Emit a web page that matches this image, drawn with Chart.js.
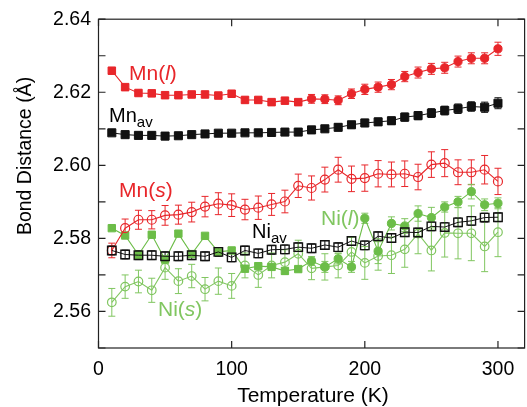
<!DOCTYPE html>
<html lang="en">
<head>
<meta charset="utf-8" />
<title>Bond Distance vs Temperature</title>
<script src="https://cdn.jsdelivr.net/npm/chart.js"></script>
<style>
    html, body { margin: 0; padding: 0; background: #fff; overflow: hidden; }
    #wrap { width: 532px; height: 407px; }
</style>
</head>
<body>
<div id="wrap"><canvas id="bondChart" width="532" height="407"></canvas></div>

<script>
    // Temperatures (K) and tick labels
    var temps = [10, 20, 30, 40, 50, 60, 70, 80, 90, 100, 110, 120, 130, 140, 150,
                 160, 170, 180, 190, 200, 210, 220, 230, 240, 250, 260, 270, 280, 290, 300];
    var xTicks = [0, 100, 200, 300];
    var yTickLabels = ['2.56', '2.58', '2.60', '2.62', '2.64'];

    // Bond distances (Angstrom)
    var mnL = [2.6259, 2.6214, 2.6198, 2.6197, 2.6192, 2.6192, 2.6194, 2.6194, 2.6191, 2.6196, 2.6179, 2.6179, 2.6173, 2.6177, 2.6173,
               2.6182, 2.6181, 2.6178, 2.6196, 2.6208, 2.6214, 2.6221, 2.6243, 2.6254, 2.6264, 2.6267, 2.6284, 2.6293, 2.6293, 2.6319];
    var mnAv = [2.6089, 2.6084, 2.6082, 2.6082, 2.6080, 2.6081, 2.6084, 2.6086, 2.6088, 2.6088, 2.6089, 2.6089, 2.6090, 2.6091, 2.6091,
                2.6097, 2.6100, 2.6104, 2.6111, 2.6116, 2.6119, 2.6122, 2.6132, 2.6136, 2.6143, 2.6150, 2.6155, 2.6161, 2.6159, 2.6170];
    var mnS = [2.5767, 2.5828, 2.5851, 2.5851, 2.5863, 2.5865, 2.5872, 2.5887, 2.5895, 2.5891, 2.5879, 2.5884, 2.5893, 2.5901, 2.5944,
               2.5938, 2.5961, 2.5988, 2.5963, 2.5965, 2.5977, 2.5975, 2.5977, 2.5968, 2.6002, 2.6006, 2.5981, 2.5981, 2.5988, 2.5956];
    var niAv = [2.5767, 2.5756, 2.5754, 2.5754, 2.5751, 2.5751, 2.5754, 2.5751, 2.5763, 2.5748, 2.5767, 2.5759, 2.5769, 2.5770, 2.5776,
                2.5773, 2.5782, 2.5776, 2.5793, 2.5781, 2.5806, 2.5801, 2.5817, 2.5816, 2.5833, 2.5831, 2.5844, 2.5848, 2.5857, 2.5858];
    var niL = [2.5828, 2.5808, 2.5755, 2.5810, 2.5742, 2.5813, 2.5757, 2.5807, 2.5763, 2.5767, 2.5717, 2.5724, 2.5722, 2.5711, 2.5716,
               2.5738, 2.5722, 2.5744, 2.5722, 2.5855, 2.5765, 2.5841, 2.5834, 2.5868, 2.5857, 2.5886, 2.5900, 2.5928, 2.5892, 2.5896];
    var niS = [2.5625, 2.5668, 2.5682, 2.5658, 2.5720, 2.5683, 2.5697, 2.5661, 2.5683, 2.5670, 2.5726, 2.5700, 2.5726, 2.5735, 2.5758,
               2.5718, 2.5722, 2.5726, 2.5763, 2.5733, 2.5752, 2.5754, 2.5770, 2.5813, 2.5767, 2.5815, 2.5814, 2.5814, 2.5778, 2.5817];

    // Error bars (+/- Angstrom)
    var mnLErr = [0.0008, 0.0008, 0.0008, 0.0008, 0.0008, 0.0008, 0.0008, 0.0008, 0.0008, 0.0008, 0.0008, 0.0008, 0.0008, 0.0008, 0.0008,
                  0.0012, 0.0012, 0.0012, 0.0013, 0.0014, 0.0014, 0.0014, 0.0014, 0.0015, 0.0015, 0.0015, 0.0015, 0.0015, 0.0015, 0.0018];
    var mnAvErr = [0.0005, 0.0005, 0.0005, 0.0005, 0.0005, 0.0005, 0.0005, 0.0005, 0.0005, 0.0005, 0.0005, 0.0005, 0.0005, 0.0005, 0.0005,
                   0.0008, 0.0008, 0.0009, 0.0009, 0.0010, 0.0010, 0.0010, 0.0011, 0.0011, 0.0012, 0.0012, 0.0013, 0.0013, 0.0014, 0.0015];
    var mnSErr = [0.0020, 0.0025, 0.0026, 0.0025, 0.0027, 0.0026, 0.0027, 0.0028, 0.0030, 0.0031, 0.0028, 0.0032, 0.0030, 0.0031, 0.0032,
                  0.0033, 0.0034, 0.0034, 0.0035, 0.0036, 0.0036, 0.0034, 0.0035, 0.0035, 0.0035, 0.0037, 0.0034, 0.0034, 0.0039, 0.0036];
    var niAvErr = [0.0012, 0.0012, 0.0012, 0.0012, 0.0012, 0.0012, 0.0012, 0.0012, 0.0012, 0.0012, 0.0012, 0.0012, 0.0012, 0.0012, 0.0012,
                   0.0012, 0.0012, 0.0012, 0.0012, 0.0012, 0.0012, 0.0012, 0.0012, 0.0012, 0.0012, 0.0012, 0.0012, 0.0012, 0.0012, 0.0012];
    var niLErr = [0.0006, 0.0006, 0.0006, 0.0006, 0.0006, 0.0006, 0.0006, 0.0006, 0.0006, 0.0006, 0.0008, 0.0008, 0.0008, 0.0008, 0.0008,
                  0.0012, 0.0015, 0.0014, 0.0015, 0.0014, 0.0034, 0.0018, 0.0020, 0.0021, 0.0028, 0.0014, 0.0015, 0.0020, 0.0016, 0.0015];
    var niSErr = [0.0038, 0.0032, 0.0031, 0.0033, 0.0032, 0.0034, 0.0032, 0.0032, 0.0036, 0.0034, 0.0034, 0.0034, 0.0034, 0.0034, 0.0037,
                  0.0031, 0.0036, 0.0034, 0.0040, 0.0045, 0.0039, 0.0050, 0.0049, 0.0055, 0.0056, 0.0066, 0.0070, 0.0075, 0.0069, 0.0067];

    var FONT = "'Liberation Sans', Arial, Helvetica, sans-serif";
    var RED = '#e8262a';
    var GREEN = '#6cbd48';
    var GREEN_LT = '#80c660';
    var BLACK = '#111111';

    Chart.defaults.font.family = FONT;
    Chart.defaults.color = '#000';

    function pts(vals) {
        return temps.map(function (t, i) { return { x: t, y: vals[i] }; });
    }
    // low temperature runs are plotted with squares, high temperature ones with circles
    function lowT(c) { return temps[c.dataIndex] <= 150; }

    // draws the vertical error bars through the library's scales
    var errorBars = {
        id: 'errorBars',
        beforeDatasetsDraw: function (chart) {
            var ctx = chart.ctx, xs = chart.scales.x, ys = chart.scales.y;
            ctx.save();
            chart.data.datasets.forEach(function (ds) {
                if (!ds.errors) return;
                ctx.strokeStyle = ds.errorColor;
                ctx.lineWidth = 1;
                ds.data.forEach(function (p, i) {
                    var x = xs.getPixelForValue(p.x);
                    var y1 = ys.getPixelForValue(p.y + ds.errors[i]);
                    var y2 = ys.getPixelForValue(p.y - ds.errors[i]);
                    ctx.beginPath();
                    ctx.moveTo(x, y1); ctx.lineTo(x, y2);
                    ctx.moveTo(x - 3.5, y1); ctx.lineTo(x + 3.5, y1);
                    ctx.moveTo(x - 3.5, y2); ctx.lineTo(x + 3.5, y2);
                    ctx.stroke();
                });
            });
            ctx.restore();
        }
    };

    function drawParts(ctx, x, y, parts, color) {
        ctx.fillStyle = color;
        ctx.textAlign = 'left';
        ctx.textBaseline = 'alphabetic';
        parts.forEach(function (p) {
            ctx.font = (p.italic ? 'italic ' : '') + p.size + 'px ' + FONT;
            ctx.fillText(p.text, x, y + (p.dy || 0));
            x += ctx.measureText(p.text).width;
        });
    }

    // box, inward ticks, axis titles and series labels
    var frame = {
        id: 'frame',
        afterDraw: function (chart) {
            var ctx = chart.ctx, a = chart.chartArea, xs = chart.scales.x, ys = chart.scales.y;
            ctx.save();
            ctx.strokeStyle = '#222';
            ctx.lineWidth = 1.2;
            ctx.strokeRect(a.left, a.top, a.right - a.left, a.bottom - a.top);
            ctx.beginPath();
            xTicks.forEach(function (t) {
                var x = xs.getPixelForValue(t);
                ctx.moveTo(x, a.bottom); ctx.lineTo(x, a.bottom - 7);
                ctx.moveTo(x, a.top); ctx.lineTo(x, a.top + 7);
            });
            ys.ticks.forEach(function (t) {
                var y = ys.getPixelForValue(t.value);
                ctx.moveTo(a.left, y); ctx.lineTo(a.left + 7, y);
                ctx.moveTo(a.right, y); ctx.lineTo(a.right - 7, y);
            });
            ctx.stroke();

            // axis titles
            ctx.fillStyle = '#000';
            ctx.font = '21px ' + FONT;
            ctx.textAlign = 'center';
            ctx.textBaseline = 'alphabetic';
            ctx.fillText('Temperature (K)', 313, 402);
            ctx.save();
            ctx.translate(31, 156);
            ctx.rotate(-Math.PI / 2);
            ctx.font = '19.5px ' + FONT;
            ctx.fillText('Bond Distance (\u00c5)', 0, 0);
            ctx.restore();

            // series labels
            drawParts(ctx, 129, 80, [{ text: 'Mn(', size: 21 }, { text: 'l', size: 21, italic: true }, { text: ')', size: 21 }], RED);
            drawParts(ctx, 109, 122, [{ text: 'Mn', size: 20 }, { text: 'av', size: 15, dy: 5 }], '#000');
            drawParts(ctx, 119, 197, [{ text: 'Mn(', size: 21 }, { text: 's', size: 21, italic: true }, { text: ')', size: 21 }], RED);
            drawParts(ctx, 252, 238, [{ text: 'Ni', size: 20 }, { text: 'av', size: 15, dy: 5 }], '#000');
            drawParts(ctx, 321, 225, [{ text: 'Ni(', size: 21 }, { text: 'l', size: 21, italic: true }, { text: ')', size: 21 }], GREEN_LT);
            drawParts(ctx, 158, 316, [{ text: 'Ni(', size: 21 }, { text: 's', size: 21, italic: true }, { text: ')', size: 21 }], GREEN_LT);
            ctx.restore();
        }
    };

    var ctx = document.getElementById('bondChart').getContext('2d');
    var bondChart = new Chart(ctx, {
        type: 'line',
        data: {
            datasets: [
                {
                    label: 'Ni av',
                    data: pts(niAv),
                    errors: niAvErr,
                    errorColor: BLACK,
                    borderColor: BLACK,
                    borderWidth: 1,
                    pointStyle: 'rect',
                    pointRadius: 6,
                    pointBorderWidth: 1.4,
                    pointBorderColor: BLACK,
                    pointBackgroundColor: 'rgba(0,0,0,0)',
                    order: 0
                },
                {
                    label: 'Mn av',
                    data: pts(mnAv),
                    errors: mnAvErr,
                    errorColor: BLACK,
                    borderColor: BLACK,
                    borderWidth: 1,
                    pointStyle: 'rect',
                    pointRadius: 5.7,
                    pointBorderWidth: 1,
                    pointBorderColor: BLACK,
                    pointBackgroundColor: BLACK,
                    order: 1
                },
                {
                    label: 'Mn(l)',
                    data: pts(mnL),
                    errors: mnLErr,
                    errorColor: RED,
                    borderColor: RED,
                    borderWidth: 1.1,
                    pointStyle: function (c) { return lowT(c) ? 'rect' : 'circle'; },
                    pointRadius: function (c) { return lowT(c) ? 5.3 : 4.1; },
                    pointBorderWidth: 1,
                    pointBorderColor: RED,
                    pointBackgroundColor: RED,
                    order: 2
                },
                {
                    label: 'Mn(s)',
                    data: pts(mnS),
                    errors: mnSErr,
                    errorColor: RED,
                    borderColor: RED,
                    borderWidth: 1.1,
                    pointStyle: 'circle',
                    pointRadius: 4.5,
                    pointBorderWidth: 1.2,
                    pointBorderColor: RED,
                    pointBackgroundColor: 'rgba(0,0,0,0)',
                    order: 3
                },
                {
                    label: 'Ni(l)',
                    data: pts(niL),
                    errors: niLErr,
                    errorColor: GREEN_LT,
                    borderColor: GREEN,
                    borderWidth: 1.1,
                    pointStyle: function (c) { return lowT(c) ? 'rect' : 'circle'; },
                    pointRadius: function (c) { return lowT(c) ? 5.2 : 4.1; },
                    pointBorderWidth: 1,
                    pointBorderColor: GREEN,
                    pointBackgroundColor: GREEN,
                    order: 4
                },
                {
                    label: 'Ni(s)',
                    data: pts(niS),
                    errors: niSErr,
                    errorColor: GREEN_LT,
                    borderColor: GREEN_LT,
                    borderWidth: 1.1,
                    pointStyle: 'circle',
                    pointRadius: 4.3,
                    pointBorderWidth: 1.2,
                    pointBorderColor: GREEN_LT,
                    pointBackgroundColor: 'rgba(0,0,0,0)',
                    order: 5
                }
            ]
        },
        options: {
            responsive: false,
            devicePixelRatio: 1,
            animation: false,
            layout: { padding: { top: 19, right: 0, bottom: 0, left: 0 } },
            elements: { line: { tension: 0, fill: false } },
            plugins: {
                legend: { display: false },
                tooltip: { enabled: false }
            },
            scales: {
                x: {
                    type: 'linear',
                    min: 0,
                    max: 320,
                    afterFit: function (s) { s.height = 59; },
                    grid: { display: false, drawTicks: false },
                    border: { display: false },
                    ticks: {
                        stepSize: 100,
                        includeBounds: false,
                        autoSkip: false,
                        maxRotation: 0,
                        padding: 10,
                        color: '#000',
                        font: { size: 19.5 },
                        callback: function (v) { return xTicks.indexOf(v) >= 0 ? String(v) : ''; }
                    }
                },
                y: {
                    min: 2.55,
                    max: 2.64,
                    afterFit: function (s) { s.width = 98.5; },
                    grid: { display: false, drawTicks: false },
                    border: { display: false },
                    ticks: {
                        stepSize: 0.01,
                        autoSkip: false,
                        padding: 7.5,
                        color: '#000',
                        font: { size: 19.5 },
                        callback: function (v) {
                            var s = Number(v).toFixed(2);
                            return yTickLabels.indexOf(s) >= 0 ? s : '';
                        }
                    }
                }
            }
        },
        plugins: [errorBars, frame]
    });
</script>
</body>
</html>
